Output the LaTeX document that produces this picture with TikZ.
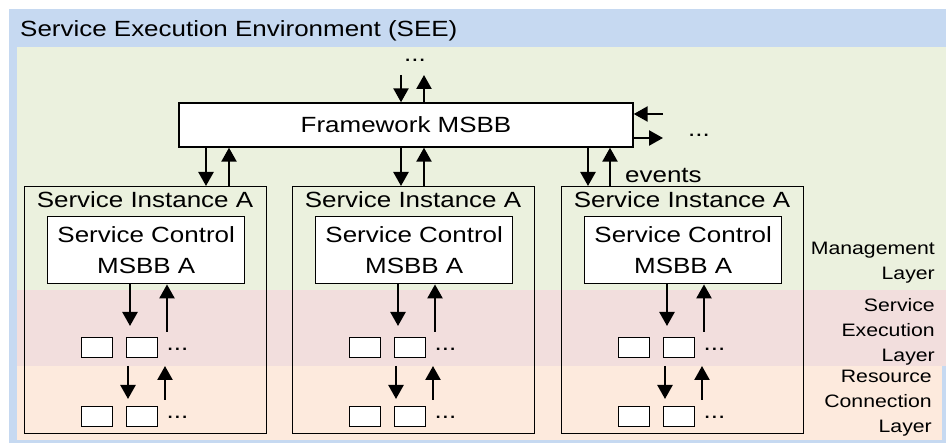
\documentclass[tikz,border=0pt]{standalone}
\usepackage{fontspec}
\setmainfont{Liberation Sans}[FakeStretch=1.18]
\usetikzlibrary{arrows.meta,calc}
\definecolor{seeblue}{HTML}{C6D9F1}
\definecolor{mgmt}{HTML}{EBF1DE}
\definecolor{execc}{HTML}{F2DEDD}
\definecolor{resc}{HTML}{FDEADD}
\begin{document}
\begin{tikzpicture}[x=1pt,y=-1pt,
  txt/.style={font=\fontsize{22}{26}\selectfont, inner sep=0pt},
  lay/.style={font=\fontsize{18}{25}\selectfont, inner sep=0pt, align=right},
  whitebox/.style={draw=black, line width=1.4pt, fill=white, inner sep=0pt},
  inst/.style={draw=black, line width=1.4pt, minimum width=242pt, minimum height=247pt, inner sep=0pt},
  ctl/.style={whitebox, minimum width=197pt, minimum height=67pt, align=center, font=\fontsize{22}{31}\selectfont},
  sbox/.style={whitebox, minimum width=31pt, minimum height=20pt},
  arr/.style={line width=2.4pt, -{Triangle[width=15pt,length=14pt]}}]
\useasboundingbox (0,0) rectangle (946,443);
% backgrounds
\fill[seeblue] (9,9) rectangle (946,443);
\fill[mgmt] (17,47) rectangle (946,290);
\fill[execc] (17,290) rectangle (946,366);
\fill[resc] (17,366) rectangle (942,440);
\node[txt, anchor=base west] (title) at (20,37) {Service Execution Environment (SEE)};
% framework
\node[whitebox, txt, minimum width=454pt, minimum height=44pt] (fw) at (406,125) {Framework MSBB};
\node[txt, anchor=base] (tdots) at (415,62) {...};
\coordinate (td) at (401,75);
\coordinate (tu) at (424,75);
\draw[arr] (td) -- (fw.north -| td);
\draw[arr] (fw.north -| tu) -- (tu);
\coordinate (rl) at (663,114);
\coordinate (rr) at (663,138);
\draw[arr] (rl) -- (fw.east |- rl);
\draw[arr] (fw.east |- rr) -- (rr);
\node[txt, anchor=base] (rdots) at (699,137) {...};
% instances
\foreach \i/\L in {1/24,2/292,3/561}{
  \node[inst, anchor=north west] (i\i) at (\L,186) {};
  \node[txt, anchor=base] (t\i) at (\L+121,208) {Service Instance A};
  \node[ctl, anchor=north west] (c\i) at (\L+23,216) {Service Control\\MSBB A};
  \node[sbox, anchor=north west] (a\i) at (\L+57,337) {};
  \node[sbox, anchor=north west] (b\i) at (\L+102,337) {};
  \node[txt, anchor=base] (d\i) at (\L+153.5,350.5) {...};
  \node[sbox, anchor=north west] (e\i) at (\L+57,406) {};
  \node[sbox, anchor=north west] (f\i) at (\L+102,406) {};
  \node[txt, anchor=base] (g\i) at (\L+153.5,418.5) {...};
  \coordinate (p\i) at (\L+106,326);
  \coordinate (q\i) at (\L+143,332);
  \draw[arr] (c\i.south -| p\i) -- (p\i);
  \draw[arr] (q\i) -- (c\i.south -| q\i);
  \coordinate (r\i) at (\L+104,366);
  \coordinate (s\i) at (\L+104,399);
  \coordinate (u\i) at (\L+141,400);
  \coordinate (v\i) at (\L+141,366);
  \draw[arr] (r\i) -- (s\i);
  \draw[arr] (u\i) -- (v\i);
}
% framework <-> instances
\coordinate (fd1) at (206,185);
\coordinate (fu1) at (229,185);
\coordinate (fd2) at (401,185);
\coordinate (fu2) at (424,185);
\coordinate (fd3) at (588,185);
\coordinate (fu3) at (610,185);
\foreach \k in {1,2,3}{
  \draw[arr] (fw.south -| fd\k) -- (i\k.north -| fd\k);
  \draw[arr] (i\k.north -| fu\k) -- (fw.south -| fu\k);
}
\node[txt, anchor=base west] (ev) at (625,183) {events};
% layer labels (base = last line)
\node[lay, anchor=base east] (lm) at (935,280) {Management\\Layer};
\node[lay, anchor=base east] (le) at (935,362) {Service\\Execution\\Layer};
\node[lay, anchor=base east] (lr) at (932,433) {Resource\\Connection\\Layer};
\end{tikzpicture}
\end{document}
